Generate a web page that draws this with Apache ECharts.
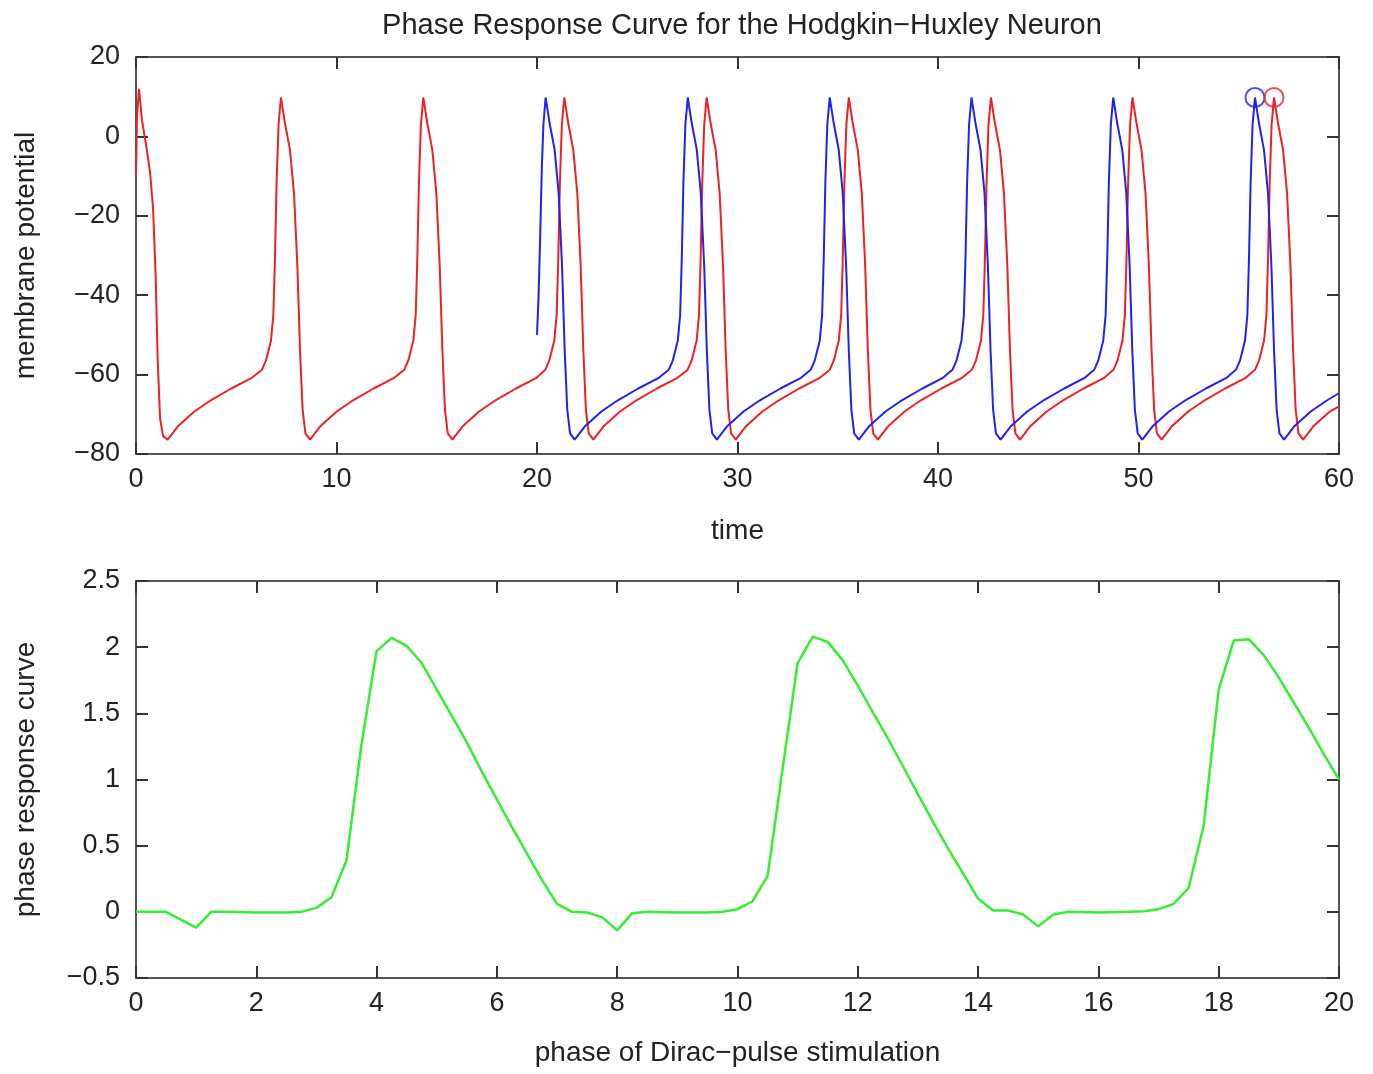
<!DOCTYPE html>
<html>
<head>
<meta charset="utf-8">
<script src="https://cdn.jsdelivr.net/npm/echarts@6/dist/echarts.min.js"></script>
<style>
  html, body { margin: 0; padding: 0; background: #fff; }
  #main { width: 1373px; height: 1074px; }
</style>
</head>
<body>
<div id="main"></div>
<script>
// membrane potential of the unperturbed neuron (red), [time, mV]
var redTrace = [
  [0, -10], [0.05, 5], [0.15, 12], [0.3, 4], [0.5, -2], [0.7, -9], [0.85, -18], [0.98, -35],
  [1.08, -56], [1.2, -71], [1.35, -75.5], [1.58, -76.4], [2.08, -73.1], [2.91, -69.3],
  [3.75, -66.4], [4.75, -63.5], [5.75, -60.9],
  [6.28, -58.8], [6.48, -56.5], [6.73, -51.5], [6.85, -45], [6.93, -31], [7.01, -12], [7.11, 3],
  [7.23, 9.8], [7.43, 3.3], [7.68, -3.4], [7.88, -14.3], [8.05, -32.8], [8.18, -53.8],
  [8.31, -68.9], [8.45, -74.8], [8.68, -76.4], [9.18, -73.1], [10.01, -69.3], [10.85, -66.4],
  [11.85, -63.5], [12.85, -60.9],
  [13.38, -58.8], [13.58, -56.5], [13.83, -51.5], [13.95, -45], [14.03, -31], [14.11, -12], [14.21, 3],
  [14.33, 9.8], [14.53, 3.3], [14.78, -3.4], [14.98, -14.3], [15.15, -32.8], [15.28, -53.8],
  [15.41, -68.9], [15.55, -74.8], [15.78, -76.4], [16.28, -73.1], [17.11, -69.3], [17.95, -66.4],
  [18.95, -63.5], [19.95, -60.9],
  [20.41, -58.8], [20.61, -56.5], [20.86, -51.5], [20.98, -45], [21.06, -31], [21.14, -12], [21.24, 3],
  [21.36, 9.8], [21.56, 3.3], [21.81, -3.4], [22.01, -14.3], [22.18, -32.8], [22.31, -53.8],
  [22.44, -68.9], [22.58, -74.8], [22.81, -76.4], [23.31, -73.1], [24.14, -69.3], [24.98, -66.4],
  [25.98, -63.5], [26.98, -60.9],
  [27.51, -58.8], [27.71, -56.5], [27.96, -51.5], [28.08, -45], [28.16, -31], [28.24, -12], [28.34, 3],
  [28.46, 9.8], [28.66, 3.3], [28.91, -3.4], [29.11, -14.3], [29.28, -32.8], [29.41, -53.8],
  [29.54, -68.9], [29.68, -74.8], [29.91, -76.4], [30.41, -73.1], [31.24, -69.3], [32.08, -66.4],
  [33.08, -63.5], [34.08, -60.9],
  [34.60, -58.8], [34.80, -56.5], [35.05, -51.5], [35.17, -45], [35.25, -31], [35.33, -12], [35.43, 3],
  [35.55, 9.8], [35.75, 3.3], [36.00, -3.4], [36.20, -14.3], [36.37, -32.8], [36.50, -53.8],
  [36.63, -68.9], [36.77, -74.8], [37.00, -76.4], [37.50, -73.1], [38.33, -69.3], [39.17, -66.4],
  [40.17, -63.5], [41.17, -60.9],
  [41.69, -58.8], [41.89, -56.5], [42.14, -51.5], [42.26, -45], [42.34, -31], [42.42, -12], [42.52, 3],
  [42.64, 9.8], [42.84, 3.3], [43.09, -3.4], [43.29, -14.3], [43.46, -32.8], [43.59, -53.8],
  [43.72, -68.9], [43.86, -74.8], [44.09, -76.4], [44.59, -73.1], [45.42, -69.3], [46.26, -66.4],
  [47.26, -63.5], [48.26, -60.9],
  [48.75, -58.8], [48.95, -56.5], [49.20, -51.5], [49.32, -45], [49.40, -31], [49.48, -12], [49.58, 3],
  [49.70, 9.8], [49.90, 3.3], [50.15, -3.4], [50.35, -14.3], [50.52, -32.8], [50.65, -53.8],
  [50.78, -68.9], [50.92, -74.8], [51.15, -76.4], [51.65, -73.1], [52.48, -69.3], [53.32, -66.4],
  [54.32, -63.5], [55.32, -60.9],
  [55.81, -58.8], [56.01, -56.5], [56.26, -51.5], [56.38, -45], [56.46, -31], [56.54, -12], [56.64, 3],
  [56.76, 9.8], [56.96, 3.3], [57.21, -3.4], [57.41, -14.3], [57.58, -32.8], [57.71, -53.8],
  [57.84, -68.9], [57.98, -74.8], [58.21, -76.4], [58.71, -73.1], [59.54, -69.3], [60, -68]
];

// membrane potential after the pulse at t = 20 (blue), [time, mV]
var blueTrace = [
  [20.00, -50], [20.08, -40], [20.16, -25], [20.24, -8], [20.32, 3],
  [20.43, 9.8], [20.63, 3.3], [20.88, -3.4], [21.08, -14.3], [21.25, -32.8], [21.38, -53.8],
  [21.51, -68.9], [21.65, -74.8], [21.88, -76.4], [22.38, -73.1], [23.21, -69.3], [24.05, -66.4],
  [25.05, -63.5], [26.05, -60.9],
  [26.57, -58.8], [26.77, -56.5], [27.02, -51.5], [27.14, -45], [27.22, -31], [27.30, -12], [27.40, 3],
  [27.52, 9.8], [27.72, 3.3], [27.97, -3.4], [28.17, -14.3], [28.34, -32.8], [28.47, -53.8],
  [28.60, -68.9], [28.74, -74.8], [28.97, -76.4], [29.47, -73.1], [30.30, -69.3], [31.14, -66.4],
  [32.14, -63.5], [33.14, -60.9],
  [33.65, -58.8], [33.85, -56.5], [34.10, -51.5], [34.22, -45], [34.30, -31], [34.38, -12], [34.48, 3],
  [34.60, 9.8], [34.80, 3.3], [35.05, -3.4], [35.25, -14.3], [35.42, -32.8], [35.55, -53.8],
  [35.68, -68.9], [35.82, -74.8], [36.05, -76.4], [36.55, -73.1], [37.38, -69.3], [38.22, -66.4],
  [39.22, -63.5], [40.22, -60.9],
  [40.72, -58.8], [40.92, -56.5], [41.17, -51.5], [41.29, -45], [41.37, -31], [41.45, -12], [41.55, 3],
  [41.67, 9.8], [41.87, 3.3], [42.12, -3.4], [42.32, -14.3], [42.49, -32.8], [42.62, -53.8],
  [42.75, -68.9], [42.89, -74.8], [43.12, -76.4], [43.62, -73.1], [44.45, -69.3], [45.29, -66.4],
  [46.29, -63.5], [47.29, -60.9],
  [47.79, -58.8], [47.99, -56.5], [48.24, -51.5], [48.36, -45], [48.44, -31], [48.52, -12], [48.62, 3],
  [48.74, 9.8], [48.94, 3.3], [49.19, -3.4], [49.39, -14.3], [49.56, -32.8], [49.69, -53.8],
  [49.82, -68.9], [49.96, -74.8], [50.19, -76.4], [50.69, -73.1], [51.52, -69.3], [52.36, -66.4],
  [53.36, -63.5], [54.36, -60.9],
  [54.86, -58.8], [55.06, -56.5], [55.31, -51.5], [55.43, -45], [55.51, -31], [55.59, -12], [55.69, 3],
  [55.81, 9.8], [56.01, 3.3], [56.26, -3.4], [56.46, -14.3], [56.63, -32.8], [56.76, -53.8],
  [56.89, -68.9], [57.03, -74.8], [57.26, -76.4], [57.76, -73.1], [58.59, -69.3], [59.43, -66.4],
  [60, -64.7]
];

// last spike peaks that get a circle
var bluePeak = [[55.81, 9.8]];
var redPeak = [[56.76, 9.8]];

// phase response curve, [phase, value]
var prcCurve = [
  [0, 0], [0.5, 0], [1.0, -0.12], [1.25, 0], [1.5, 0], [2.0, -0.005], [2.5, -0.005], [2.75, 0],
  [3.0, 0.03], [3.25, 0.11], [3.5, 0.39], [3.75, 1.27], [4.0, 1.97], [4.25, 2.07], [4.5, 2.01],
  [4.75, 1.88], [5.0, 1.68], [5.25, 1.48], [5.5, 1.28], [5.75, 1.06], [6.0, 0.85], [6.25, 0.64],
  [6.5, 0.44], [6.75, 0.24], [7.0, 0.06], [7.25, 0], [7.5, -0.005], [7.75, -0.04], [8.0, -0.14],
  [8.25, -0.01], [8.5, 0], [9.0, -0.005], [9.5, -0.005], [9.75, 0], [10.0, 0.02], [10.25, 0.08],
  [10.5, 0.27], [10.75, 1.08], [11.0, 1.88], [11.25, 2.08], [11.5, 2.04], [11.75, 1.90],
  [12.0, 1.71], [12.25, 1.51], [12.5, 1.31], [12.75, 1.10], [13.0, 0.89], [13.25, 0.68],
  [13.5, 0.48], [13.75, 0.29], [14.0, 0.10], [14.25, 0.01], [14.5, 0.01], [14.75, -0.02],
  [15.0, -0.11], [15.25, -0.02], [15.5, 0], [16.0, -0.005], [16.5, 0], [16.75, 0.005],
  [17.0, 0.02], [17.25, 0.06], [17.5, 0.18], [17.75, 0.65], [18.0, 1.68], [18.25, 2.05],
  [18.5, 2.06], [18.75, 1.94], [19.0, 1.77], [19.25, 1.58], [19.5, 1.39], [19.75, 1.19], [20.0, 1.0]
];

var chart = echarts.init(document.getElementById('main'));

var FONT = 'Liberation Sans, Arial, sans-serif';
var frameLine = { show: true, onZero: false, lineStyle: { color: '#555', width: 2 } };
var innerTick = { show: true, inside: true, length: 12, lineStyle: { color: '#333', width: 2 } };
var labelStyle = {
  color: '#222', fontSize: 27, fontFamily: FONT,
  formatter: function (v) { return String(v).replace('-', '\u2212'); }
};

// main axis with labels, plus a mirrored one so the box has ticks on all sides
function axisPair(kind, grid, min, max, interval, name, nameGap, margin) {
  var main = {
    type: 'value', gridIndex: grid, min: min, max: max, interval: interval,
    axisLine: frameLine, axisTick: innerTick, splitLine: { show: false },
    axisLabel: Object.assign({ margin: margin }, labelStyle),
    name: name, nameLocation: 'middle', nameGap: nameGap,
    nameTextStyle: { color: '#222', fontSize: 28, fontFamily: FONT }
  };
  var mirror = {
    type: 'value', gridIndex: grid, min: min, max: max, interval: interval,
    position: kind === 'x' ? 'top' : 'right',
    axisLine: frameLine, axisTick: innerTick, splitLine: { show: false },
    axisLabel: { show: false }
  };
  return [main, mirror];
}

var xTop = axisPair('x', 0, 0, 60, 10, 'time', 63, 12);
var yTop = axisPair('y', 0, -80, 20, 20, 'membrane potential', 96, 16);
var xBot = axisPair('x', 1, 0, 20, 2, 'phase of Dirac\u2212pulse stimulation', 61, 12);
var yBot = axisPair('y', 1, -0.5, 2.5, 0.5, 'phase response curve', 96, 16);

var option = {
  backgroundColor: '#fff',
  animation: false,
  title: {
    text: 'Phase Response Curve for the Hodgkin\u2212Huxley Neuron',
    left: 737, top: 6, textAlign: 'center',
    textStyle: { color: '#222', fontSize: 29, fontWeight: 'normal', fontFamily: FONT }
  },
  grid: [
    { left: 136, right: 34, top: 57, height: 397 },
    { left: 136, right: 34, top: 581, height: 397 }
  ],
  xAxis: [xTop[0], xTop[1], xBot[0], xBot[1]],
  yAxis: [yTop[0], yTop[1], yBot[0], yBot[1]],
  series: [
    {
      type: 'line', xAxisIndex: 0, yAxisIndex: 0, data: redTrace,
      showSymbol: false,
      lineStyle: { color: '#ee2222', width: 2 }
    },
    {
      type: 'line', xAxisIndex: 0, yAxisIndex: 0, data: blueTrace,
      showSymbol: false,
      lineStyle: { color: '#2222ee', width: 2 }
    },
    {
      type: 'scatter', xAxisIndex: 0, yAxisIndex: 0, data: bluePeak,
      symbol: 'circle', symbolSize: 19,
      itemStyle: { color: 'rgba(0,0,0,0)', borderColor: '#2222ee', borderWidth: 2 }
    },
    {
      type: 'scatter', xAxisIndex: 0, yAxisIndex: 0, data: redPeak,
      symbol: 'circle', symbolSize: 19,
      itemStyle: { color: 'rgba(0,0,0,0)', borderColor: '#ee2222', borderWidth: 2 }
    },
    {
      type: 'line', xAxisIndex: 2, yAxisIndex: 2, data: prcCurve,
      showSymbol: false,
      lineStyle: { color: '#33ee33', width: 2.5 }
    }
  ]
};

chart.setOption(option);
</script>
</body>
</html>
